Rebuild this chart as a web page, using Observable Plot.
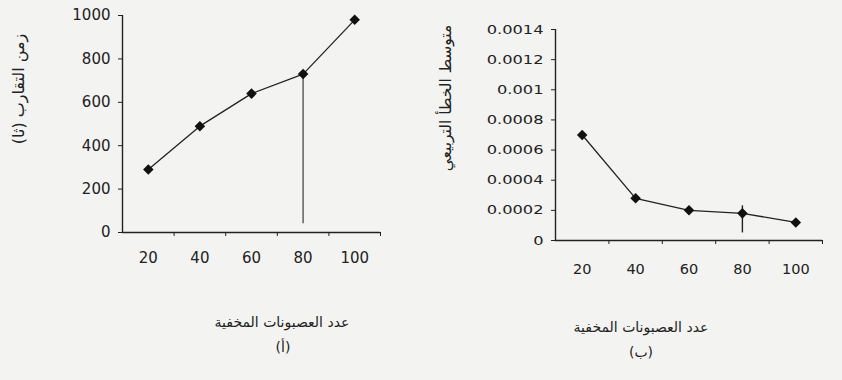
<!DOCTYPE html>
<html>
<head>
<meta charset="utf-8">
<script src="https://cdn.jsdelivr.net/npm/d3@7"></script>
<script src="https://cdn.jsdelivr.net/npm/@observablehq/plot@0.6"></script>
<style>
  html, body { margin: 0; padding: 0; background: #f3f3f1; }
  #wrap { position: relative; width: 842px; height: 380px; overflow: hidden; background: #f3f3f1; font-family: "DejaVu Sans", sans-serif; color: #222; }
  .panel { position: absolute; top: 0; }
  .t { position: absolute; white-space: nowrap; transform: translate(-50%, -50%); font-size: 14px; direction: rtl; }
  .ty { position: absolute; white-space: nowrap; transform: translate(-50%, -50%) rotate(-90deg); direction: rtl; }
</style>
</head>
<body>
<div id="wrap">
  <div id="pa" class="panel" style="left:0px"></div>
  <div id="pb" class="panel" style="left:420px"></div>
  <div class="ty" style="left:18px; top:89px; font-size:16px">زمن التقارب (ثا)</div>
  <div class="ty" style="left:446px; top:98px; font-size:15.5px">متوسط الخطأ التربيعي</div>
  <div class="t" style="left:282px; top:322px">عدد العصبونات المخفية</div>
  <div class="t" style="left:283px; top:347px">(أ)</div>
  <div class="t" style="left:641px; top:327px">عدد العصبونات المخفية</div>
  <div class="t" style="left:641px; top:352px">(ب)</div>
</div>
<script>
// hidden neurons (categories)
const neurons = [20, 40, 60, 80, 100];
// (a) convergence time (s)
const timeValues = [290, 490, 640, 730, 980];
// (b) mean squared error
const mseValues = [0.0007, 0.00028, 0.0002, 0.00018, 0.00012];
// tick labels
const timeTicks = [0, 200, 400, 600, 800, 1000];
const mseTicks = [0, 0.0002, 0.0004, 0.0006, 0.0008, 0.001, 0.0012, 0.0014];
const catBoundaries = [30, 50, 70, 90, 110];
// highlighted choice (80 neurons)
const chosen = 80;
const chosenTimeSpan = [40, 720];
const chosenMseSpan = [0.00005, 0.00023];

const dataA = neurons.map((n, i) => ({n, v: timeValues[i]}));
const dataB = neurons.map((n, i) => ({n, v: mseValues[i]}));
const ink = "#222";

function stretch(svg, k) {
  d3.select(svg).selectAll("g[aria-label='y-axis tick label'] text").each(function() {
    const w = this.getComputedTextLength();
    this.setAttribute("textLength", w * k);
    this.setAttribute("lengthAdjust", "spacingAndGlyphs");
  });
}

const pa = Plot.plot({
  width: 400, height: 280,
  marginLeft: 122, marginRight: 20, marginTop: 15, marginBottom: 48,
  style: {background: "transparent", fontFamily: "DejaVu Sans", color: ink},
  x: {type: "linear", domain: [10, 110], axis: null},
  y: {domain: [0, 1000], axis: null},
  marks: [
    Plot.axisY({ticks: timeTicks, tickSize: 4, tickPadding: 8, fontSize: 15, label: null, tickFormat: d => String(d), stroke: ink, fill: ink}),
    Plot.axisX({ticks: catBoundaries, tickSize: 4, tickFormat: () => "", label: null, stroke: ink}),
    Plot.axisX({ticks: neurons, tickSize: 0, tickPadding: 20, fontSize: 15, label: null, tickFormat: d => String(d), fill: ink}),
    Plot.ruleX([chosen], {y1: chosenTimeSpan[0], y2: chosenTimeSpan[1], stroke: "#555", strokeWidth: 1.4}),
    Plot.ruleY([0], {stroke: ink, strokeWidth: 1.4}),
    Plot.ruleX([10], {stroke: ink, strokeWidth: 1.4}),
    Plot.line(dataA, {x: "n", y: "v", stroke: ink, strokeWidth: 1.3}),
    Plot.dot(dataA, {x: "n", y: "v", symbol: "square", rotate: 45, r: 4.2, fill: "#111", stroke: "none"})
  ]
});
document.getElementById("pa").appendChild(pa);

const pb = Plot.plot({
  width: 422, height: 280,
  marginLeft: 135, marginRight: 20, marginTop: 29, marginBottom: 40,
  style: {background: "transparent", fontFamily: "DejaVu Sans", color: ink},
  x: {type: "linear", domain: [10, 110], axis: null},
  y: {domain: [0, 0.0014], axis: null},
  marks: [
    Plot.axisY({ticks: mseTicks, tickSize: 4, tickPadding: 8, fontSize: 12.5, label: null, tickFormat: d => String(+d.toFixed(4)), stroke: ink, fill: ink}),
    Plot.axisX({ticks: catBoundaries, tickSize: 4, tickFormat: () => "", label: null, stroke: ink}),
    Plot.axisX({ticks: neurons, tickSize: 0, tickPadding: 23, fontSize: 14.5, label: null, tickFormat: d => String(d), fill: ink}),
    Plot.ruleX([chosen], {y1: chosenMseSpan[0], y2: chosenMseSpan[1], stroke: ink, strokeWidth: 1.4}),
    Plot.ruleY([0], {stroke: ink, strokeWidth: 1.4}),
    Plot.ruleX([10], {stroke: ink, strokeWidth: 1.4}),
    Plot.line(dataB, {x: "n", y: "v", stroke: ink, strokeWidth: 1.3}),
    Plot.dot(dataB, {x: "n", y: "v", symbol: "square", rotate: 45, r: 4.2, fill: "#111", stroke: "none"})
  ]
});
document.getElementById("pb").appendChild(pb);
stretch(pb, 1.3);
</script>
</body>
</html>
